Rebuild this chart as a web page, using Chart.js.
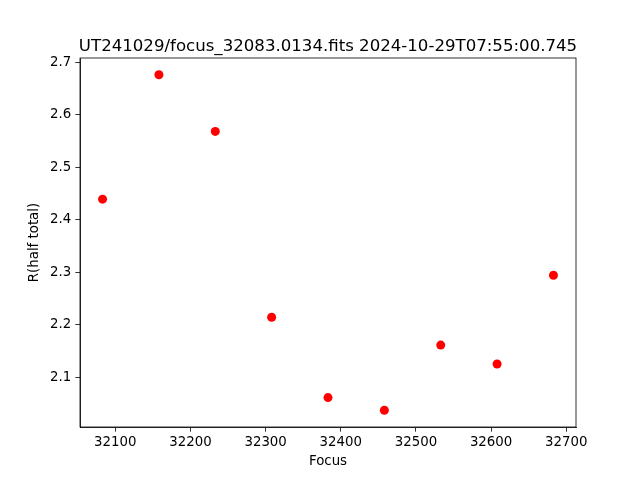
<!DOCTYPE html>
<html>
<head>
<meta charset="utf-8">
<script src="https://cdn.jsdelivr.net/npm/chart.js@4/dist/chart.umd.min.js"></script>
<style>
  html, body { margin: 0; padding: 0; background: #fff; }
  #wrap { width: 640px; height: 480px; }
</style>
</head>
<body>
<div id="wrap"><canvas id="focusChart" width="640" height="480"></canvas></div>
<script>
const focusValues = [32083, 32158, 32233, 32308, 32383, 32458, 32533, 32608, 32683];
const radiusValues = [2.439, 2.676, 2.568, 2.214, 2.061, 2.037, 2.161, 2.125, 2.294];
const xTicks = [32100, 32200, 32300, 32400, 32500, 32600, 32700];
const yTicks = [2.1, 2.2, 2.3, 2.4, 2.5, 2.6, 2.7];
const titleText = 'UT241029/focus_32083.0134.fits 2024-10-29T07:55:00.745';

const fontFamily = '"DejaVu Sans", sans-serif';

// draws the title and the top/right spines like matplotlib
const frame = {
  id: 'frame',
  afterDraw(chart) {
    const { ctx, chartArea: a } = chart;
    ctx.save();
    ctx.strokeStyle = '#000';
    ctx.lineWidth = 0.8;
    ctx.strokeRect(a.left, a.top, a.right - a.left, a.bottom - a.top);
    ctx.fillStyle = '#000';
    ctx.font = '16.6px ' + fontFamily;
    ctx.textAlign = 'center';
    ctx.textBaseline = 'alphabetic';
    ctx.fillText(titleText, (a.left + a.right) / 2, a.top - 7.5);
    ctx.restore();
  }
};

const ctx = document.getElementById('focusChart');
new Chart(ctx, {
  type: 'scatter',
  data: {
    datasets: [{
      data: focusValues.map((f, i) => ({ x: f, y: radiusValues[i] })),
      backgroundColor: '#ff0000',
      borderWidth: 0,
      pointRadius: 4.5,
      pointHoverRadius: 4.5
    }]
  },
  options: {
    responsive: false,
    animation: false,
    layout: { padding: { top: 58, right: 64, left: 0, bottom: 0 } },
    plugins: {
      legend: { display: false },
      tooltip: { enabled: false }
    },
    scales: {
      x: {
        type: 'linear',
        min: 32053,
        max: 32713,
        afterBuildTicks: s => { s.ticks = xTicks.map(v => ({ value: v })); },
        afterFit: s => { s.height = 53; },
        grid: { drawOnChartArea: false, tickLength: 4.7, tickColor: '#000', tickWidth: 0.8 },
        border: { display: true, color: '#000', width: 0.8 },
        ticks: {
          color: '#000',
          padding: 3,
          maxRotation: 0,
          font: { family: fontFamily, size: 13.33 },
          callback: v => String(v)
        },
        title: {
          display: true,
          text: 'Focus',
          color: '#000',
          font: { family: fontFamily, size: 13.33 },
          padding: { top: 0, bottom: 10 }
        }
      },
      y: {
        type: 'linear',
        min: 2.005,
        max: 2.7078,
        afterBuildTicks: s => { s.ticks = yTicks.map(v => ({ value: v })); },
        afterFit: s => { s.width = 80; },
        grid: { drawOnChartArea: false, tickLength: 4.7, tickColor: '#000', tickWidth: 0.8 },
        border: { display: true, color: '#000', width: 0.8 },
        ticks: {
          color: '#000',
          padding: 4,
          font: { family: fontFamily, size: 13.33 },
          callback: v => v.toFixed(1)
        },
        title: {
          display: true,
          text: 'R(half total)',
          color: '#000',
          font: { family: fontFamily, size: 13.33 },
          padding: { top: 27, bottom: 0 }
        }
      }
    }
  },
  plugins: [frame]
});
</script>
</body>
</html>
